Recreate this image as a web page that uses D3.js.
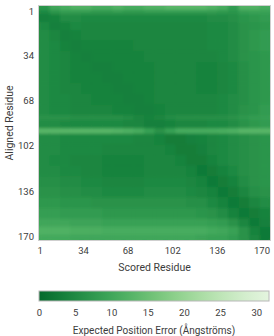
<!DOCTYPE html>
<html>
<head>
<meta charset="utf-8" />
<title>PAE heatmap</title>
<script src="https://d3js.org/d3.v7.min.js"></script>
<style>
html, body { margin: 0; padding: 0; background: #fff; }
svg { display: block; }
text { font-family: Roboto, "Open Sans", sans-serif; fill: #3c3c3c; }
.tick text { font-size: 9.5px; }
.axis-title { font-size: 10.5px; }
.legend-title { font-size: 10px; }
</style>
</head>
<body>
<script>
// residues in the model
const nRes = 176;
// first residue of every row band (aligned residue) and column block (scored residue)
const rowStarts = [1, 4, 7, 13, 19, 27, 35, 43, 51, 59, 67, 75, 83, 87, 93, 97, 105, 113, 121, 129, 137, 145, 153, 161, 167, 173];
const colStarts = [1, 9, 17, 25, 33, 41, 49, 57, 65, 73, 81, 89, 97, 105, 113, 121, 129, 137, 145, 153, 161, 169];
// expected position error (Å), one row per band, one value per column block
const pae = [
  [7, 10, 11, 12, 12, 11, 11, 12, 11, 11, 12, 12, 13, 13, 13, 13, 12, 11, 8, 12, 12, 11],
  [5, 7, 8, 8, 8, 7.5, 7.5, 8, 7.5, 7.5, 8, 8, 8, 8, 8, 8, 8, 7.5, 7, 8.5, 9, 9],
  [3.5, 4, 5.5, 5.5, 5, 5, 5, 5, 5, 5, 5, 5, 5, 5, 5, 5, 5.5, 5.5, 6, 7, 7.5, 8],
  [5, 3.5, 4, 5, 4.5, 4.5, 4.5, 4.5, 4.5, 4.5, 4.5, 4.5, 4.5, 4.5, 4.5, 4.5, 5, 5, 5.5, 6.5, 7, 7.5],
  [5.5, 4.5, 3.5, 4, 4.5, 4.5, 4.5, 4.5, 4.5, 4.5, 4.5, 4.5, 4.5, 4.5, 4.5, 4.5, 5, 5, 5.5, 6.5, 7.5, 8],
  [5.5, 5, 4, 3.5, 4, 4, 4, 4, 4, 4.5, 4.5, 4.5, 4.5, 4.5, 4.5, 4.5, 5, 5, 5.5, 6.5, 7.5, 8],
  [5.5, 5, 4.5, 4, 3.5, 4, 4, 4, 4, 4, 4.5, 4.5, 4.5, 4.5, 4.5, 4.5, 4.5, 5, 5.5, 6.5, 7, 7.5],
  [5.5, 5, 4.5, 4, 4, 3.5, 3.5, 4, 4, 4, 4, 4.5, 4.5, 4.5, 4.5, 4, 4, 4.5, 5, 6, 7, 7.5],
  [5.5, 5, 4.5, 4, 4, 4, 3.5, 3.5, 4, 4, 4, 4.5, 4.5, 4.5, 4.5, 4, 4, 4.5, 5, 6, 7, 7.5],
  [5.5, 5, 4.5, 4.5, 4, 4, 4, 3.5, 3.5, 4, 4, 4.5, 4.5, 4.5, 4.5, 4, 4, 4.5, 5, 6, 7, 7.5],
  [5.5, 5, 5, 4.5, 4.5, 4, 4, 4, 3.5, 3.5, 4, 4.5, 4.5, 4.5, 4.5, 4.5, 4.5, 5, 5.5, 6, 7, 7.5],
  [5.5, 5, 5, 4.5, 4.5, 4.5, 4.5, 4, 4, 3.5, 3.5, 4, 4.5, 4.5, 4.5, 4.5, 4.5, 5, 5.5, 6.5, 7, 8],
  [6.5, 6.5, 6.5, 6, 6, 6, 6, 6, 5.5, 4.5, 4, 4.5, 5.5, 6, 6, 6, 6, 6, 6.5, 7.5, 8, 8.5],
  [5.5, 5.5, 5, 5, 5, 5, 5, 5, 4.5, 4.5, 3.5, 3.5, 4, 4.5, 4.5, 4.5, 5, 5, 5.5, 6.5, 7.5, 8],
  [13, 13, 13, 13, 13, 13, 13, 12.5, 12, 11, 9, 6.5, 9, 11, 11, 11, 11, 11.5, 12, 13, 13, 13],
  [5.5, 5.5, 5, 5, 5, 5, 5, 5, 5, 4.5, 4.5, 4, 3, 3, 3.5, 4, 4.5, 5, 5.5, 6, 6.5, 7],
  [5.5, 5.5, 5, 5, 5, 5, 4.5, 4.5, 4.5, 4.5, 4.5, 4.5, 4, 3, 3, 3.5, 4.5, 5, 5.5, 6, 6.5, 7],
  [5.5, 5, 5, 4.5, 4.5, 4.5, 4, 4, 4, 4, 4.5, 4.5, 4.5, 4, 3, 3, 4, 5, 5.5, 6, 6.5, 7],
  [5.5, 5.5, 5, 5, 4.5, 4.5, 4, 4, 4, 4, 4.5, 4.5, 4.5, 4.5, 4, 2.5, 3, 4, 5, 6, 6.5, 7],
  [6, 6, 5.5, 5.5, 5, 5, 4.5, 4.5, 4.5, 4.5, 5, 5, 5, 5, 4.5, 4, 2.5, 3, 4, 5.5, 6.5, 7],
  [6.5, 6.5, 6, 6, 5.5, 5.5, 5, 5, 5, 5, 5.5, 5.5, 5.5, 5.5, 5, 4.5, 4, 2.5, 3, 4.5, 6, 6.5],
  [7.5, 7.5, 7, 7, 7, 6.5, 6.5, 6.5, 6.5, 6.5, 6.5, 6.5, 6.5, 6.5, 6, 6, 5, 4, 2.5, 3, 4.5, 5.5],
  [8.5, 8.5, 8, 8, 8, 8, 7.5, 7.5, 7.5, 7.5, 7.5, 7.5, 7.5, 7.5, 7.5, 7, 6.5, 5.5, 4, 2.5, 3, 4],
  [10, 10, 10, 9.5, 9.5, 9.5, 9, 9, 9, 9, 9, 9, 9, 9, 9, 9, 8.5, 8, 6.5, 4.5, 2.5, 3.5],
  [12, 12, 12, 11.5, 11.5, 11.5, 11, 11, 11, 11, 11, 11, 11, 11, 11, 11, 10.5, 10, 9, 6.5, 4, 2.5],
  [10.5, 10.5, 10.5, 10, 10, 10, 10, 10, 10, 10, 10, 10, 10, 10, 10, 9.5, 9, 9, 8, 6.5, 4.5, 2.5]
];
const residueTicks = [1, 34, 68, 102, 136, 170];
const errorTicks = [0, 5, 10, 15, 20, 25, 30];
const maxError = 31.75;

const width = 274, height = 336;
const plot = {left: 39, right: 270, top: 6, bottom: 240};

const svg = d3.select('body').append('svg').attr('width', width).attr('height', height);

const x = d3.scaleLinear().domain([0.5, nRes + 0.5]).range([plot.left, plot.right]);
const y = d3.scaleLinear().domain([0.5, nRes + 0.5]).range([plot.top, plot.bottom]);
const color = d3.scaleSequential(t => d3.interpolateGreens(0.88 - 0.76 * t)).domain([0, maxError]);

const defs = svg.append('defs');
const soft = defs.append('filter').attr('id', 'soft')
    .attr('x', 0).attr('y', 0).attr('width', 1).attr('height', 1);
soft.append('feGaussianBlur').attr('stdDeviation', 1.8).attr('result', 'b');
soft.append('feComponentTransfer').attr('in', 'b')
    .append('feFuncA').attr('type', 'table').attr('tableValues', '1 1');

// cells
let cells = [];
rowStarts.forEach((rs, i) => {
    let re = i + 1 < rowStarts.length ? rowStarts[i + 1] - 1 : nRes;
    colStarts.forEach((cs, j) => {
        let ce = j + 1 < colStarts.length ? colStarts[j + 1] - 1 : nRes;
        cells.push({r0: rs, r1: re, c0: cs, c1: ce, v: pae[i][j]});
    });
});

svg.append('g').attr('filter', 'url(#soft)')
    .selectAll('rect').data(cells).enter().append('rect')
    .attr('x', d => x(d.c0 - 0.5))
    .attr('y', d => y(d.r0 - 0.5))
    .attr('width', d => x(d.c1 + 0.5) - x(d.c0 - 0.5) + 0.4)
    .attr('height', d => y(d.r1 + 0.5) - y(d.r0 - 0.5) + 0.4)
    .attr('fill', d => color(d.v));

svg.append('rect')
    .attr('x', plot.left - 0.5).attr('y', plot.top - 0.5)
    .attr('width', plot.right - plot.left + 1).attr('height', plot.bottom - plot.top + 1)
    .attr('fill', 'none').attr('stroke', '#cfcfcf');

// axes
let yAxis = svg.append('g').attr('transform', `translate(${plot.left},5)`)
    .call(d3.axisLeft(y).tickValues(residueTicks).tickSize(0).tickPadding(5));
yAxis.select('.domain').remove();
yAxis.selectAll('text').style('fill', '#3c3c3c');

let xAxis = svg.append('g').attr('transform', `translate(0,${plot.bottom})`)
    .call(d3.axisBottom(x).tickValues(residueTicks).tickSize(0).tickPadding(7.5));
xAxis.select('.domain').remove();
xAxis.selectAll('text').style('fill', '#3c3c3c');

svg.append('text').attr('class', 'axis-title')
    .attr('x', (plot.left + plot.right) / 2).attr('y', 271)
    .attr('text-anchor', 'middle').text('Scored Residue');

svg.append('text').attr('class', 'axis-title')
    .attr('transform', `translate(13,${(plot.top + plot.bottom) / 2}) rotate(-90)`)
    .attr('text-anchor', 'middle').text('Aligned Residue');

// colour bar
const bar = {left: 39, right: 269, top: 291, bottom: 301};
const lx = d3.scaleLinear().domain([0, maxError]).range([bar.left, bar.right]);
const grad = defs.append('linearGradient').attr('id', 'paeGrad');
grad.selectAll('stop').data(d3.range(0, 1.0001, 0.1)).enter().append('stop')
    .attr('offset', d => d)
    .attr('stop-color', d => color(d * maxError));

svg.append('rect')
    .attr('x', bar.left).attr('y', bar.top)
    .attr('width', bar.right - bar.left).attr('height', bar.bottom - bar.top)
    .attr('fill', 'url(#paeGrad)').attr('stroke', '#b8b8b8').attr('stroke-width', 1);

let legendAxis = svg.append('g').attr('transform', `translate(0,${bar.bottom})`)
    .call(d3.axisBottom(lx).tickValues(errorTicks).tickSize(0).tickPadding(8.5));
legendAxis.select('.domain').remove();
legendAxis.selectAll('text').style('fill', '#3c3c3c');

svg.append('text').attr('class', 'legend-title')
    .attr('x', 154).attr('y', 334)
    .attr('text-anchor', 'middle').text('Expected Position Error (Ångströms)');
</script>
</body>
</html>
